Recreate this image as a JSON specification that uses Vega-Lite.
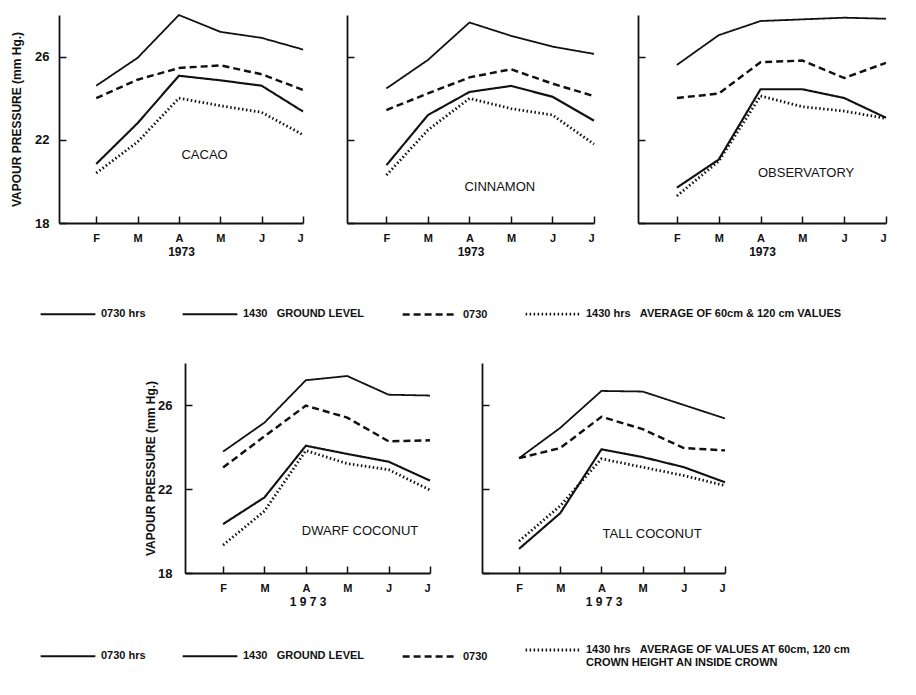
{
  "$schema": "https://vega.github.io/schema/vega-lite/v6.json",
  "padding": {"left": 10, "top": 11, "right": 5, "bottom": 35},
  "background": "white",
  "datasets": {
    "vp": [
      {"site":"CACAO","series":"g0730","m":1,"vp":24.6},{"site":"CACAO","series":"g0730","m":2,"vp":25.94},{"site":"CACAO","series":"g0730","m":3,"vp":28.0},{"site":"CACAO","series":"g0730","m":4,"vp":27.19},{"site":"CACAO","series":"g0730","m":5,"vp":26.9},{"site":"CACAO","series":"g0730","m":6,"vp":26.34},
      {"site":"CACAO","series":"a0730","m":1,"vp":24.0},{"site":"CACAO","series":"a0730","m":2,"vp":24.89},{"site":"CACAO","series":"a0730","m":3,"vp":25.45},{"site":"CACAO","series":"a0730","m":4,"vp":25.58},{"site":"CACAO","series":"a0730","m":5,"vp":25.15},{"site":"CACAO","series":"a0730","m":6,"vp":24.4},
      {"site":"CACAO","series":"g1430","m":1,"vp":20.84},{"site":"CACAO","series":"g1430","m":2,"vp":22.8},{"site":"CACAO","series":"g1430","m":3,"vp":25.08},{"site":"CACAO","series":"g1430","m":4,"vp":24.86},{"site":"CACAO","series":"g1430","m":5,"vp":24.6},{"site":"CACAO","series":"g1430","m":6,"vp":23.36},
      {"site":"CACAO","series":"a1430","m":1,"vp":20.4},{"site":"CACAO","series":"a1430","m":2,"vp":21.9},{"site":"CACAO","series":"a1430","m":3,"vp":24.0},{"site":"CACAO","series":"a1430","m":4,"vp":23.64},{"site":"CACAO","series":"a1430","m":5,"vp":23.32},{"site":"CACAO","series":"a1430","m":6,"vp":22.24},
      {"site":"CINNAMON","series":"g0730","m":1,"vp":24.47},{"site":"CINNAMON","series":"g0730","m":2,"vp":25.84},{"site":"CINNAMON","series":"g0730","m":3,"vp":27.64},{"site":"CINNAMON","series":"g0730","m":4,"vp":27.0},{"site":"CINNAMON","series":"g0730","m":5,"vp":26.48},{"site":"CINNAMON","series":"g0730","m":6,"vp":26.13},
      {"site":"CINNAMON","series":"a0730","m":1,"vp":23.43},{"site":"CINNAMON","series":"a0730","m":2,"vp":24.23},{"site":"CINNAMON","series":"a0730","m":3,"vp":25.0},{"site":"CINNAMON","series":"a0730","m":4,"vp":25.39},{"site":"CINNAMON","series":"a0730","m":5,"vp":24.7},{"site":"CINNAMON","series":"a0730","m":6,"vp":24.1},
      {"site":"CINNAMON","series":"g1430","m":1,"vp":20.78},{"site":"CINNAMON","series":"g1430","m":2,"vp":23.19},{"site":"CINNAMON","series":"g1430","m":3,"vp":24.3},{"site":"CINNAMON","series":"g1430","m":4,"vp":24.59},{"site":"CINNAMON","series":"g1430","m":5,"vp":24.07},{"site":"CINNAMON","series":"g1430","m":6,"vp":22.92},
      {"site":"CINNAMON","series":"a1430","m":1,"vp":20.3},{"site":"CINNAMON","series":"a1430","m":2,"vp":22.47},{"site":"CINNAMON","series":"a1430","m":3,"vp":23.99},{"site":"CINNAMON","series":"a1430","m":4,"vp":23.5},{"site":"CINNAMON","series":"a1430","m":5,"vp":23.19},{"site":"CINNAMON","series":"a1430","m":6,"vp":21.79},
      {"site":"OBSERVATORY","series":"g0730","m":1,"vp":25.6},{"site":"OBSERVATORY","series":"g0730","m":2,"vp":27.03},{"site":"OBSERVATORY","series":"g0730","m":3,"vp":27.71},{"site":"OBSERVATORY","series":"g0730","m":4,"vp":27.79},{"site":"OBSERVATORY","series":"g0730","m":5,"vp":27.87},{"site":"OBSERVATORY","series":"g0730","m":6,"vp":27.82},
      {"site":"OBSERVATORY","series":"a0730","m":1,"vp":24.01},{"site":"OBSERVATORY","series":"a0730","m":2,"vp":24.22},{"site":"OBSERVATORY","series":"a0730","m":3,"vp":25.73},{"site":"OBSERVATORY","series":"a0730","m":4,"vp":25.81},{"site":"OBSERVATORY","series":"a0730","m":5,"vp":24.97},{"site":"OBSERVATORY","series":"a0730","m":6,"vp":25.7},
      {"site":"OBSERVATORY","series":"g1430","m":1,"vp":19.7},{"site":"OBSERVATORY","series":"g1430","m":2,"vp":21.05},{"site":"OBSERVATORY","series":"g1430","m":3,"vp":24.43},{"site":"OBSERVATORY","series":"g1430","m":4,"vp":24.43},{"site":"OBSERVATORY","series":"g1430","m":5,"vp":24.01},{"site":"OBSERVATORY","series":"g1430","m":6,"vp":23.06},
      {"site":"OBSERVATORY","series":"a1430","m":1,"vp":19.3},{"site":"OBSERVATORY","series":"a1430","m":2,"vp":20.97},{"site":"OBSERVATORY","series":"a1430","m":3,"vp":24.11},{"site":"OBSERVATORY","series":"a1430","m":4,"vp":23.59},{"site":"OBSERVATORY","series":"a1430","m":5,"vp":23.38},{"site":"OBSERVATORY","series":"a1430","m":6,"vp":23.03},
      {"site":"DWARF COCONUT","series":"g0730","m":1,"vp":23.78},{"site":"DWARF COCONUT","series":"g0730","m":2,"vp":25.16},{"site":"DWARF COCONUT","series":"g0730","m":3,"vp":27.18},{"site":"DWARF COCONUT","series":"g0730","m":4,"vp":27.38},{"site":"DWARF COCONUT","series":"g0730","m":5,"vp":26.49},{"site":"DWARF COCONUT","series":"g0730","m":6,"vp":26.45},
      {"site":"DWARF COCONUT","series":"a0730","m":1,"vp":23.02},{"site":"DWARF COCONUT","series":"a0730","m":2,"vp":24.51},{"site":"DWARF COCONUT","series":"a0730","m":3,"vp":25.97},{"site":"DWARF COCONUT","series":"a0730","m":4,"vp":25.4},{"site":"DWARF COCONUT","series":"a0730","m":5,"vp":24.27},{"site":"DWARF COCONUT","series":"a0730","m":6,"vp":24.32},
      {"site":"DWARF COCONUT","series":"g1430","m":1,"vp":20.33},{"site":"DWARF COCONUT","series":"g1430","m":2,"vp":21.6},{"site":"DWARF COCONUT","series":"g1430","m":3,"vp":24.06},{"site":"DWARF COCONUT","series":"g1430","m":4,"vp":23.67},{"site":"DWARF COCONUT","series":"g1430","m":5,"vp":23.3},{"site":"DWARF COCONUT","series":"g1430","m":6,"vp":22.4},
      {"site":"DWARF COCONUT","series":"a1430","m":1,"vp":19.33},{"site":"DWARF COCONUT","series":"a1430","m":2,"vp":20.95},{"site":"DWARF COCONUT","series":"a1430","m":3,"vp":23.83},{"site":"DWARF COCONUT","series":"a1430","m":4,"vp":23.21},{"site":"DWARF COCONUT","series":"a1430","m":5,"vp":22.92},{"site":"DWARF COCONUT","series":"a1430","m":6,"vp":21.95},
      {"site":"TALL COCONUT","series":"g0730","m":1,"vp":23.47},{"site":"TALL COCONUT","series":"g0730","m":2,"vp":24.91},{"site":"TALL COCONUT","series":"g0730","m":3,"vp":26.67},{"site":"TALL COCONUT","series":"g0730","m":4,"vp":26.64},{"site":"TALL COCONUT","series":"g0730","m":5,"vp":26.0},{"site":"TALL COCONUT","series":"g0730","m":6,"vp":25.36},
      {"site":"TALL COCONUT","series":"a0730","m":1,"vp":23.47},{"site":"TALL COCONUT","series":"a0730","m":2,"vp":23.95},{"site":"TALL COCONUT","series":"a0730","m":3,"vp":25.44},{"site":"TALL COCONUT","series":"a0730","m":4,"vp":24.85},{"site":"TALL COCONUT","series":"a0730","m":5,"vp":23.95},{"site":"TALL COCONUT","series":"a0730","m":6,"vp":23.84},
      {"site":"TALL COCONUT","series":"g1430","m":1,"vp":19.15},{"site":"TALL COCONUT","series":"g1430","m":2,"vp":20.85},{"site":"TALL COCONUT","series":"g1430","m":3,"vp":23.89},{"site":"TALL COCONUT","series":"g1430","m":4,"vp":23.52},{"site":"TALL COCONUT","series":"g1430","m":5,"vp":23.04},{"site":"TALL COCONUT","series":"g1430","m":6,"vp":22.32},
      {"site":"TALL COCONUT","series":"a1430","m":1,"vp":19.52},{"site":"TALL COCONUT","series":"a1430","m":2,"vp":21.2},{"site":"TALL COCONUT","series":"a1430","m":3,"vp":23.44},{"site":"TALL COCONUT","series":"a1430","m":4,"vp":23.04},{"site":"TALL COCONUT","series":"a1430","m":5,"vp":22.64},{"site":"TALL COCONUT","series":"a1430","m":6,"vp":22.16}
    ]
  },
  "vconcat": [
    {
      "spacing": 37,
      "hconcat": [
        {
          "width": 244, "height": 208,
          "data": {"name": "vp"},
          "transform": [{"filter": "datum.site == 'CACAO'"}],
          "layer": [
            {
              "mark": {"type": "line", "color": "#111"},
              "encoding": {
                "x": {"field": "m", "type": "quantitative", "scale": {"domain": [0.1, 6], "nice": false}, "axis": {"values": [1,2,3,4,5,6], "labelExpr": "['F','M','A','M','J','J'][datum.value-1]", "title": "1973"}},
                "y": {"field": "vp", "type": "quantitative", "scale": {"domain": [18, 28], "nice": false, "zero": false}, "axis": {"values": [18,22,26], "title": "VAPOUR PRESSURE (mm Hg.)", "titlePadding": 11, "labelPadding": 17}},
                "strokeDash": {"field": "series", "type": "nominal", "scale": {"domain": ["g0730","g1430","a0730","a1430"], "range": [[1,0],[1,0],[7,4],[1.5,2.5]]}, "legend": {"orient": "bottom", "direction": "horizontal", "title": null, "padding": -20, "symbolType": "stroke", "symbolSize": 3000, "symbolStrokeColor": "#111", "labelFontSize": 11, "labelFontWeight": "bold", "labelColor": "#111", "labelLimit": 0, "columns": 4, "columnPadding": 32, "offset": 48, "labelExpr": "{'g0730':'0730 hrs','g1430':'1430\u00a0\u00a0\u00a0GROUND LEVEL','a0730':'0730','a1430':'1430 hrs\u00a0\u00a0\u00a0AVERAGE OF 60cm & 120 cm VALUES'}[datum.value]"}},
                "strokeWidth": {"field": "series", "type": "nominal", "scale": {"domain": ["g0730","g1430","a0730","a1430"], "range": [1.8, 2.8, 1.8, 1.4]}, "legend": {"orient": "bottom", "direction": "horizontal", "title": null, "padding": -20, "symbolType": "stroke", "symbolSize": 3000, "symbolStrokeColor": "#111", "labelFontSize": 11, "labelFontWeight": "bold", "labelColor": "#111", "labelLimit": 0, "columns": 4, "columnPadding": 32, "offset": 48, "labelExpr": "{'g0730':'0730 hrs','g1430':'1430\u00a0\u00a0\u00a0GROUND LEVEL','a0730':'0730','a1430':'1430 hrs\u00a0\u00a0\u00a0AVERAGE OF 60cm & 120 cm VALUES'}[datum.value]"}}
              }
            },
            {
              "transform": [{"filter": "datum.series == 'g0730' && datum.m == 1"}],
              "mark": {"type": "text", "fontSize": 13, "color": "#111", "align": "center", "baseline": "middle"},
              "encoding": {"x": {"datum": 3.62, "type": "quantitative"}, "y": {"datum": 21.28, "type": "quantitative"}, "text": {"field": "site"}}
            }
          ]
        },
        {
          "width": 247, "height": 208,
          "data": {"name": "vp"},
          "transform": [{"filter": "datum.site == 'CINNAMON'"}],
          "layer": [
            {
              "mark": {"type": "line", "color": "#111"},
              "encoding": {
                "x": {"field": "m", "type": "quantitative", "scale": {"domain": [0.05, 6], "nice": false}, "axis": {"values": [1,2,3,4,5,6], "labelExpr": "['F','M','A','M','J','J'][datum.value-1]", "title": "1973"}},
                "y": {"field": "vp", "type": "quantitative", "scale": {"domain": [18, 28], "nice": false, "zero": false}, "axis": {"values": [18,22,26], "title": null, "labels": false}},
                "strokeDash": {"field": "series", "type": "nominal", "scale": {"domain": ["g0730","g1430","a0730","a1430"], "range": [[1,0],[1,0],[7,4],[1.5,2.5]]}, "legend": {"orient": "bottom", "direction": "horizontal", "title": null, "padding": -20, "symbolType": "stroke", "symbolSize": 3000, "symbolStrokeColor": "#111", "labelFontSize": 11, "labelFontWeight": "bold", "labelColor": "#111", "labelLimit": 0, "columns": 4, "columnPadding": 32, "offset": 48, "labelExpr": "{'g0730':'0730 hrs','g1430':'1430\u00a0\u00a0\u00a0GROUND LEVEL','a0730':'0730','a1430':'1430 hrs\u00a0\u00a0\u00a0AVERAGE OF 60cm & 120 cm VALUES'}[datum.value]"}},
                "strokeWidth": {"field": "series", "type": "nominal", "scale": {"domain": ["g0730","g1430","a0730","a1430"], "range": [1.8, 2.8, 1.8, 1.4]}, "legend": {"orient": "bottom", "direction": "horizontal", "title": null, "padding": -20, "symbolType": "stroke", "symbolSize": 3000, "symbolStrokeColor": "#111", "labelFontSize": 11, "labelFontWeight": "bold", "labelColor": "#111", "labelLimit": 0, "columns": 4, "columnPadding": 32, "offset": 48, "labelExpr": "{'g0730':'0730 hrs','g1430':'1430\u00a0\u00a0\u00a0GROUND LEVEL','a0730':'0730','a1430':'1430 hrs\u00a0\u00a0\u00a0AVERAGE OF 60cm & 120 cm VALUES'}[datum.value]"}}
              }
            },
            {
              "transform": [{"filter": "datum.series == 'g0730' && datum.m == 1"}],
              "mark": {"type": "text", "fontSize": 13, "color": "#111", "align": "center", "baseline": "middle"},
              "encoding": {"x": {"datum": 3.73, "type": "quantitative"}, "y": {"datum": 19.73, "type": "quantitative"}, "text": {"field": "site"}}
            }
          ]
        },
        {
          "width": 248, "height": 208,
          "data": {"name": "vp"},
          "transform": [{"filter": "datum.site == 'OBSERVATORY'"}],
          "layer": [
            {
              "mark": {"type": "line", "color": "#111"},
              "encoding": {
                "x": {"field": "m", "type": "quantitative", "scale": {"domain": [0.07, 6], "nice": false}, "axis": {"values": [1,2,3,4,5,6], "labelExpr": "['F','M','A','M','J','J'][datum.value-1]", "title": "1973"}},
                "y": {"field": "vp", "type": "quantitative", "scale": {"domain": [18, 28], "nice": false, "zero": false}, "axis": {"values": [18,22,26], "title": null, "labels": false}},
                "strokeDash": {"field": "series", "type": "nominal", "scale": {"domain": ["g0730","g1430","a0730","a1430"], "range": [[1,0],[1,0],[7,4],[1.5,2.5]]}, "legend": {"orient": "bottom", "direction": "horizontal", "title": null, "padding": -20, "symbolType": "stroke", "symbolSize": 3000, "symbolStrokeColor": "#111", "labelFontSize": 11, "labelFontWeight": "bold", "labelColor": "#111", "labelLimit": 0, "columns": 4, "columnPadding": 32, "offset": 48, "labelExpr": "{'g0730':'0730 hrs','g1430':'1430\u00a0\u00a0\u00a0GROUND LEVEL','a0730':'0730','a1430':'1430 hrs\u00a0\u00a0\u00a0AVERAGE OF 60cm & 120 cm VALUES'}[datum.value]"}},
                "strokeWidth": {"field": "series", "type": "nominal", "scale": {"domain": ["g0730","g1430","a0730","a1430"], "range": [1.8, 2.8, 1.8, 1.4]}, "legend": {"orient": "bottom", "direction": "horizontal", "title": null, "padding": -20, "symbolType": "stroke", "symbolSize": 3000, "symbolStrokeColor": "#111", "labelFontSize": 11, "labelFontWeight": "bold", "labelColor": "#111", "labelLimit": 0, "columns": 4, "columnPadding": 32, "offset": 48, "labelExpr": "{'g0730':'0730 hrs','g1430':'1430\u00a0\u00a0\u00a0GROUND LEVEL','a0730':'0730','a1430':'1430 hrs\u00a0\u00a0\u00a0AVERAGE OF 60cm & 120 cm VALUES'}[datum.value]"}}
              }
            },
            {
              "transform": [{"filter": "datum.series == 'g0730' && datum.m == 1"}],
              "mark": {"type": "text", "fontSize": 13, "color": "#111", "align": "center", "baseline": "middle"},
              "encoding": {"x": {"datum": 4.09, "type": "quantitative"}, "y": {"datum": 20.4, "type": "quantitative"}, "text": {"field": "site"}}
            }
          ]
        }
      ]
    },
    {
      "spacing": 45,
      "hconcat": [
        {"width": 40, "height": 210, "data": {"values": []}, "mark": "point"},
        {
          "width": 245, "height": 210,
          "data": {"name": "vp"},
          "transform": [{"filter": "datum.site == 'DWARF COCONUT'"}],
          "layer": [
            {
              "mark": {"type": "line", "color": "#111"},
              "encoding": {
                "x": {"field": "m", "type": "quantitative", "scale": {"domain": [0.08, 6], "nice": false}, "axis": {"values": [1,2,3,4,5,6], "labelExpr": "['F','M','A','M','J','J'][datum.value-1]", "title": "1 9 7 3"}},
                "y": {"field": "vp", "type": "quantitative", "scale": {"domain": [18, 28], "nice": false, "zero": false}, "axis": {"values": [18,22,26], "title": "VAPOUR PRESSURE (mm Hg.)", "titlePadding": 0, "labelPadding": 20}},
                "strokeDash": {"field": "series", "type": "nominal", "scale": {"domain": ["g0730","g1430","a0730","a1430"], "range": [[1,0],[1,0],[7,4],[1.5,2.5]]}, "legend": {"orient": "bottom", "direction": "horizontal", "title": null, "padding": -20, "symbolType": "stroke", "symbolSize": 3000, "symbolStrokeColor": "#111", "labelFontSize": 11, "labelFontWeight": "bold", "labelColor": "#111", "labelLimit": 0, "columns": 4, "columnPadding": 32, "offset": 34, "labelExpr": "{'g0730':'0730 hrs','g1430':'1430\u00a0\u00a0\u00a0GROUND LEVEL','a0730':'0730','a1430':['1430 hrs\u00a0\u00a0\u00a0AVERAGE OF VALUES AT 60cm, 120 cm','CROWN HEIGHT AN INSIDE CROWN']}[datum.value]"}},
                "strokeWidth": {"field": "series", "type": "nominal", "scale": {"domain": ["g0730","g1430","a0730","a1430"], "range": [1.8, 2.8, 1.8, 1.4]}, "legend": {"orient": "bottom", "direction": "horizontal", "title": null, "padding": -20, "symbolType": "stroke", "symbolSize": 3000, "symbolStrokeColor": "#111", "labelFontSize": 11, "labelFontWeight": "bold", "labelColor": "#111", "labelLimit": 0, "columns": 4, "columnPadding": 32, "offset": 34, "labelExpr": "{'g0730':'0730 hrs','g1430':'1430\u00a0\u00a0\u00a0GROUND LEVEL','a0730':'0730','a1430':['1430 hrs\u00a0\u00a0\u00a0AVERAGE OF VALUES AT 60cm, 120 cm','CROWN HEIGHT AN INSIDE CROWN']}[datum.value]"}}
              }
            },
            {
              "transform": [{"filter": "datum.series == 'g0730' && datum.m == 1"}],
              "mark": {"type": "text", "fontSize": 13, "color": "#111", "align": "center", "baseline": "middle"},
              "encoding": {"x": {"datum": 4.31, "type": "quantitative"}, "y": {"datum": 20.0, "type": "quantitative"}, "text": {"field": "site"}}
            }
          ]
        },
        {
          "width": 243, "height": 210,
          "data": {"name": "vp"},
          "transform": [{"filter": "datum.site == 'TALL COCONUT'"}],
          "layer": [
            {
              "mark": {"type": "line", "color": "#111"},
              "encoding": {
                "x": {"field": "m", "type": "quantitative", "scale": {"domain": [0.1, 6], "nice": false}, "axis": {"values": [1,2,3,4,5,6], "labelExpr": "['F','M','A','M','J','J'][datum.value-1]", "title": "1 9 7 3"}},
                "y": {"field": "vp", "type": "quantitative", "scale": {"domain": [18, 28], "nice": false, "zero": false}, "axis": {"values": [18,22,26], "title": null, "labels": false}},
                "strokeDash": {"field": "series", "type": "nominal", "scale": {"domain": ["g0730","g1430","a0730","a1430"], "range": [[1,0],[1,0],[7,4],[1.5,2.5]]}, "legend": {"orient": "bottom", "direction": "horizontal", "title": null, "padding": -20, "symbolType": "stroke", "symbolSize": 3000, "symbolStrokeColor": "#111", "labelFontSize": 11, "labelFontWeight": "bold", "labelColor": "#111", "labelLimit": 0, "columns": 4, "columnPadding": 32, "offset": 34, "labelExpr": "{'g0730':'0730 hrs','g1430':'1430\u00a0\u00a0\u00a0GROUND LEVEL','a0730':'0730','a1430':['1430 hrs\u00a0\u00a0\u00a0AVERAGE OF VALUES AT 60cm, 120 cm','CROWN HEIGHT AN INSIDE CROWN']}[datum.value]"}},
                "strokeWidth": {"field": "series", "type": "nominal", "scale": {"domain": ["g0730","g1430","a0730","a1430"], "range": [1.8, 2.8, 1.8, 1.4]}, "legend": {"orient": "bottom", "direction": "horizontal", "title": null, "padding": -20, "symbolType": "stroke", "symbolSize": 3000, "symbolStrokeColor": "#111", "labelFontSize": 11, "labelFontWeight": "bold", "labelColor": "#111", "labelLimit": 0, "columns": 4, "columnPadding": 32, "offset": 34, "labelExpr": "{'g0730':'0730 hrs','g1430':'1430\u00a0\u00a0\u00a0GROUND LEVEL','a0730':'0730','a1430':['1430 hrs\u00a0\u00a0\u00a0AVERAGE OF VALUES AT 60cm, 120 cm','CROWN HEIGHT AN INSIDE CROWN']}[datum.value]"}}
              }
            },
            {
              "transform": [{"filter": "datum.series == 'g0730' && datum.m == 1"}],
              "mark": {"type": "text", "fontSize": 13, "color": "#111", "align": "center", "baseline": "middle"},
              "encoding": {"x": {"datum": 4.23, "type": "quantitative"}, "y": {"datum": 19.88, "type": "quantitative"}, "text": {"field": "site"}}
            }
          ]
        }
      ]
    }
  ],
  "spacing": 58,
  "resolve": {
    "scale": {"strokeDash": "independent", "strokeWidth": "independent"},
    "legend": {"strokeDash": "independent", "strokeWidth": "independent"}
  },
  "config": {
    "view": {"stroke": null},
    "font": "Liberation Sans",
    "axis": {"domainColor": "#111", "domainWidth": 1.8, "tickColor": "#111", "tickWidth": 1.5, "tickSize": -7, "grid": false, "labelColor": "#111", "titleColor": "#111", "labelFontWeight": "bold"},
    "axisX": {"labelFontSize": 11, "labelPadding": 16, "titleFontSize": 12, "titleFontWeight": "bold", "titlePadding": 3},
    "axisY": {"labelFontSize": 13, "labelPadding": 12, "titleFontSize": 12, "titleFontWeight": "bold"},
    "text": {"font": "Liberation Sans"}
  }
}
